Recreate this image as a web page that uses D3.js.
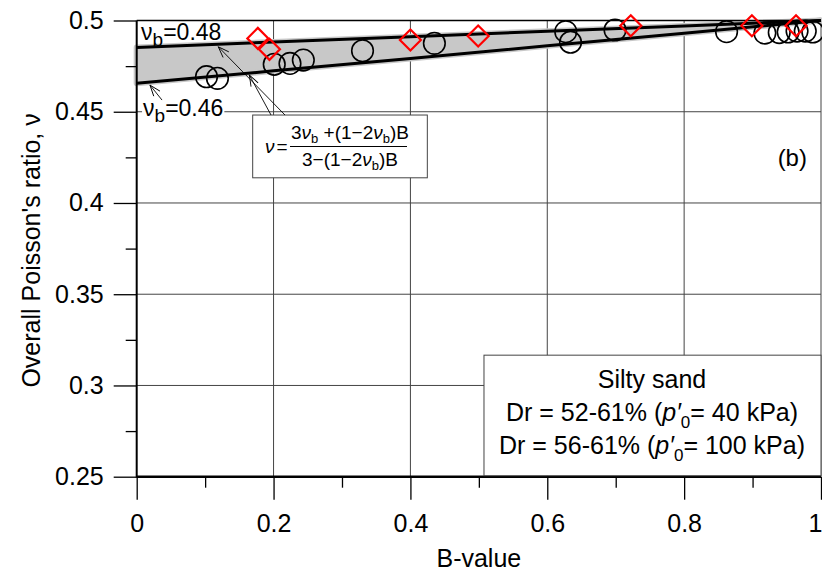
<!DOCTYPE html>
<html><head><meta charset="utf-8">
<script src="https://cdn.jsdelivr.net/npm/d3@7"></script>
<style>
body{margin:0;background:#fff}
svg{display:block}
text{font-family:"Liberation Sans",Arial,sans-serif;fill:#000}
</style></head><body>
<script>
// ---- data ----
const circleB = [0.102,0.118,0.201,0.224,0.2435,0.330,0.435,0.627,0.634,0.699,0.862,0.918,0.939,0.952,0.965,0.977,0.988];
const circleV = [0.4692,0.4683,0.4760,0.4765,0.4783,0.4834,0.4875,0.4939,0.4881,0.4948,0.4939,0.4931,0.4934,0.4937,0.4942,0.4942,0.4937];
const diamondB = [0.177,0.194,0.400,0.499,0.722,0.899,0.9635];
const diamondV = [0.4902,0.4842,0.4893,0.4915,0.4971,0.4971,0.4971];
const lineB  = [0,0.2,0.4,0.6,0.8,1];
const upperV = [0.4852,0.4882,0.4911,0.4941,0.4970,0.5];
const lowerV = [0.4656,0.4724,0.4792,0.4861,0.4930,0.5];
const xTicks = [0,0.2,0.4,0.6,0.8,1];
const xTickLabels = ["0","0.2","0.4","0.6","0.8","1"];
const xMinor = [0.1,0.3,0.5,0.7,0.9];
const yTicks = [0.25,0.3,0.35,0.4,0.45,0.5];
const yTickLabels = ["0.25","0.3","0.35","0.4","0.45","0.5"];
const yMinor = [0.275,0.325,0.375,0.425,0.475];
const legendLines = ["Silty sand","Dr = 52-61% (","Dr = 56-61% ("];
const legendPressures = ["= 40 kPa)","= 100 kPa)"];

// ---- layout ----
const W = 822, H = 573;
const m = {left:136.7, top:20.5};
const iw = 684.3, ih = 456.2;
const FS = 25;

const svg = d3.select("body").append("svg").attr("width",W).attr("height",H);
const x = d3.scaleLinear().domain([0,1]).range([m.left, m.left+iw]);
const y = d3.scaleLinear().domain([0.25,0.5]).range([m.top+ih, m.top]);

const defs = svg.append("defs");
defs.append("marker").attr("id","arr").attr("viewBox","-12 -6 14 12")
  .attr("refX",0).attr("refY",0).attr("markerWidth",14).attr("markerHeight",12)
  .attr("markerUnits","userSpaceOnUse").attr("orient","auto")
  .append("path").attr("d","M-11,-4 L0,0 L-11,4").attr("fill","none").attr("stroke","#000").attr("stroke-width",0.9);

// grid
const grid = svg.append("g");
grid.selectAll("line.v").data(xTicks.slice(1)).join("line")
  .attr("x1",d=>x(d)).attr("x2",d=>x(d)).attr("y1",y(0.25)).attr("y2",y(0.5))
  .attr("stroke","#444").attr("stroke-width",1);
grid.selectAll("line.h").data(yTicks.slice(1,-1)).join("line")
  .attr("x1",x(0)).attr("x2",x(1)).attr("y1",d=>y(d)).attr("y2",d=>y(d))
  .attr("stroke","#444").attr("stroke-width",1);

// band
const band = lineB.map((b,i)=>({b, u:upperV[i], l:lowerV[i]}));
const area = d3.area().x(d=>x(d.b)).y0(d=>y(d.l)).y1(d=>y(d.u));
svg.append("path").datum(band).attr("d",area).attr("fill","#c8c8c8")
  .attr("stroke","#c8c8c8").attr("stroke-width",6).attr("stroke-linejoin","round");
const ln = d3.line().x(d=>x(d[0])).y(d=>y(d[1]));
svg.append("path").datum(lineB.map((b,i)=>[b,upperV[i]])).attr("d",ln)
  .attr("fill","none").attr("stroke","#000").attr("stroke-width",3);
svg.append("path").datum(lineB.map((b,i)=>[b,lowerV[i]])).attr("d",ln)
  .attr("fill","none").attr("stroke","#000").attr("stroke-width",3);

// axes
const xAx = svg.append("g").attr("transform",`translate(0,${y(0.25)})`)
  .call(d3.axisBottom(x).tickValues(xTicks).tickFormat((d,i)=>xTickLabels[i]).tickSize(23).tickSizeOuter(0).tickPadding(15));
xAx.select(".domain").remove();
xAx.selectAll(".tick line").attr("stroke","#000").attr("stroke-width",1.3);
xAx.selectAll(".tick text").attr("font-size",FS).attr("font-family","Liberation Sans, Arial, sans-serif");
xAx.selectAll(".tick text").filter((d,i)=>i===xTicks.length-1).attr("text-anchor","end").attr("dx",1);
const xMin = svg.append("g").attr("transform",`translate(0,${y(0.25)})`)
  .call(d3.axisBottom(x).tickValues(xMinor).tickFormat("").tickSize(11).tickSizeOuter(0));
xMin.select(".domain").remove();
xMin.selectAll(".tick line").attr("stroke","#000").attr("stroke-width",1.3);

const yAx = svg.append("g").attr("transform",`translate(${x(0)},0)`)
  .call(d3.axisLeft(y).tickValues(yTicks).tickFormat((d,i)=>yTickLabels[i]).tickSize(23).tickSizeOuter(0).tickPadding(10));
yAx.select(".domain").remove();
yAx.selectAll(".tick line").attr("stroke","#000").attr("stroke-width",1.3);
yAx.selectAll(".tick text").attr("font-size",FS).attr("font-family","Liberation Sans, Arial, sans-serif");
const yMin = svg.append("g").attr("transform",`translate(${x(0)},0)`)
  .call(d3.axisLeft(y).tickValues(yMinor).tickFormat("").tickSize(11).tickSizeOuter(0));
yMin.select(".domain").remove();
yMin.selectAll(".tick line").attr("stroke","#000").attr("stroke-width",1.3);

// frame lines
svg.append("line").attr("x1",x(0)).attr("x2",x(1)).attr("y1",y(0.25)).attr("y2",y(0.25)).attr("stroke","#000").attr("stroke-width",2.5);
svg.append("line").attr("x1",x(0)).attr("x2",x(0)).attr("y1",y(0.25)+1).attr("y2",y(0.5)).attr("stroke","#000").attr("stroke-width",2);
svg.append("line").attr("x1",x(0)).attr("x2",x(1)).attr("y1",y(0.5)).attr("y2",y(0.5)).attr("stroke","#000").attr("stroke-width",1.5);

// axis titles
svg.append("text").attr("x",x(0.5)).attr("y",567).attr("text-anchor","middle").attr("font-size",FS).text("B-value");
svg.append("text").attr("transform",`translate(40,${y(0.374)}) rotate(-90)`).attr("text-anchor","middle")
  .attr("font-size",FS).text("Overall Poisson's ratio, ν");

// points
svg.append("g").selectAll("circle").data(circleB.map((b,i)=>[b,circleV[i]])).join("circle")
  .attr("cx",d=>x(d[0])).attr("cy",d=>y(d[1])).attr("r",10.8)
  .attr("fill","none").attr("stroke","#000").attr("stroke-width",1.6);
svg.append("g").selectAll("path").data(diamondB.map((b,i)=>[b,diamondV[i]])).join("path")
  .attr("transform",d=>`translate(${x(d[0])},${y(d[1])})`)
  .attr("d","M0,-10.5 L10.5,0 L0,10.5 L-10.5,0 Z")
  .attr("fill","none").attr("stroke","#f00").attr("stroke-width",2.2);

// nu_b labels
function nuLabel(b,v,val,bg){
  const t = svg.append("text").attr("x",x(b)).attr("y",y(v)).attr("font-size",23);
  t.append("tspan").text("ν");
  t.append("tspan").attr("dy",6).attr("font-size",19).text("b");
  t.append("tspan").attr("dy",-6).text("="+val);
  if(bg){
    const bb = t.node().getBBox();
    svg.insert("rect", function(){return t.node();}).attr("x",bb.x-1).attr("y",bb.y+4).attr("width",bb.width+2).attr("height",bb.height-4).attr("fill","#fff");
  }
}
nuLabel(0.0064,0.4894,"0.48",false);
nuLabel(0.0093,0.4477,"0.46",true);

// formula box
const fb = svg.append("g");
fb.append("rect").attr("x",x(0.1695)).attr("y",y(0.4482)).attr("width",x(0.4247)-x(0.1695)).attr("height",y(0.4138)-y(0.4482))
  .attr("fill","#fff").attr("stroke","#444").attr("stroke-width",1);
const serif = "Liberation Serif, Times New Roman, serif";
const cx = 350;
function sub(t,txt){ t.append("tspan").attr("dy",4).attr("font-size",13).text(txt); }
const num = fb.append("text").attr("x",cx).attr("y",139).attr("text-anchor","middle").attr("font-family",serif).attr("font-size",19);
num.append("tspan").text("3");
num.append("tspan").attr("font-style","italic").text("ν");
sub(num,"b");
num.append("tspan").attr("dy",-4).text(" +(1−2");
num.append("tspan").attr("font-style","italic").text("ν");
sub(num,"b");
num.append("tspan").attr("dy",-4).text(")B");
const den = fb.append("text").attr("x",cx).attr("y",166).attr("text-anchor","middle").attr("font-family",serif).attr("font-size",19);
den.append("tspan").text("3−(1−2");
den.append("tspan").attr("font-style","italic").text("ν");
sub(den,"b");
den.append("tspan").attr("dy",-4).text(")B");
fb.append("line").attr("x1",290).attr("x2",407).attr("y1",146.5).attr("y2",146.5).attr("stroke","#000").attr("stroke-width",1);
const lhs = fb.append("text").attr("x",265).attr("y",153).attr("font-family",serif).attr("font-size",19);
lhs.append("tspan").attr("font-style","italic").text("ν");
lhs.append("tspan").attr("dx",2).text("=");

// arrows (tail -> tip), data coords
const arrows = [
  [[0.2167,0.4482],[0.1192,0.4856]],
  [[0.1963,0.4482],[0.1646,0.4701]],
  [[0.0370,0.4564],[0.0194,0.4646]]
];
svg.append("g").selectAll("line").data(arrows).join("line")
  .attr("x1",d=>x(d[0][0])).attr("y1",d=>y(d[0][1])).attr("x2",d=>x(d[1][0])).attr("y2",d=>y(d[1][1]))
  .attr("stroke","#000").attr("stroke-width",0.9).attr("marker-end","url(#arr)");

// (b)
svg.append("text").attr("x",x(0.9795)).attr("y",166).attr("text-anchor","end").attr("font-size",24).text("(b)");

// legend box
const lg = svg.append("g");
lg.append("rect").attr("x",x(0.5075)).attr("y",y(0.3166)).attr("width",x(1)-x(0.5075)).attr("height",y(0.25)-y(0.3166)-1)
  .attr("fill","#fff").attr("stroke","#444").attr("stroke-width",1);
const lcx = 652;
lg.append("text").attr("x",lcx).attr("y",388).attr("text-anchor","middle").attr("font-size",FS).text(legendLines[0]);
[1,2].forEach((k)=>{
  const t = lg.append("text").attr("x",lcx).attr("y",k===1?421:454).attr("text-anchor","middle").attr("font-size",FS);
  t.append("tspan").text(legendLines[k]);
  t.append("tspan").attr("font-style","italic").text("p′");
  t.append("tspan").attr("dy",7).attr("font-size",17).text("0");
  t.append("tspan").attr("dy",-7).text(legendPressures[k-1]);
});
</script>
</body></html>
